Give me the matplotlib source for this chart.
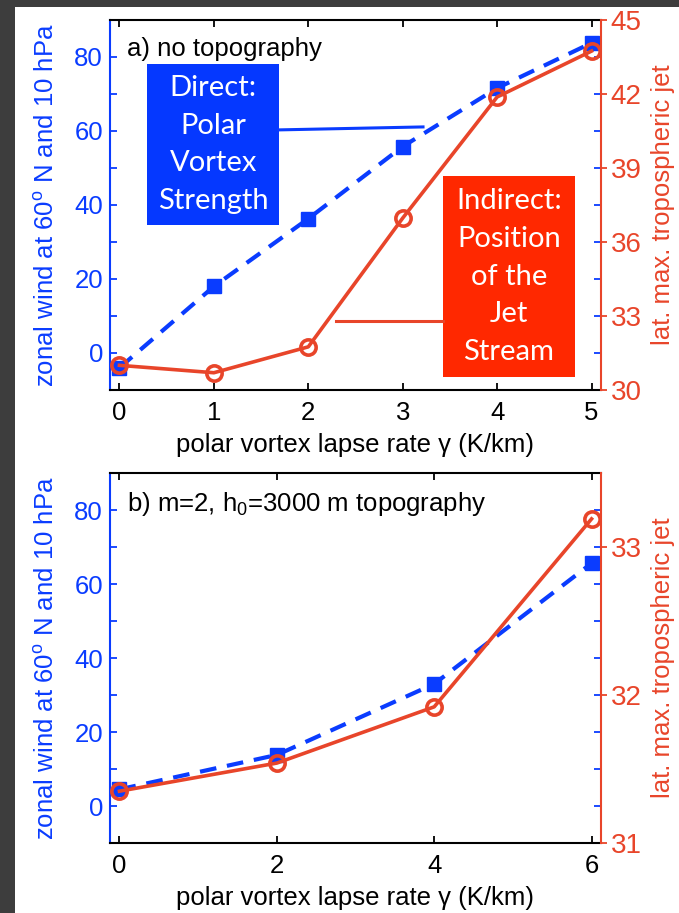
import matplotlib
matplotlib.use('Agg')
import matplotlib.pyplot as plt
from matplotlib.patches import Rectangle
from matplotlib.lines import Line2D
from matplotlib.ticker import MultipleLocator

plt.rcParams['font.family'] = ['Liberation Sans', 'DejaVu Sans']
plt.rcParams['mathtext.fontset'] = 'custom'
plt.rcParams['mathtext.rm'] = 'Liberation Sans'
plt.rcParams['mathtext.it'] = 'Liberation Sans:italic'

# panel a) no topography
gamma_a = [0, 1, 2, 3, 4, 5]
wind_a = [-4, 18, 36.3, 55.8, 71.6, 83.8]
jet_a = [31.0, 30.7, 31.75, 36.97, 41.88, 43.74]

# panel b) m=2, h0=3000 m topography
gamma_b = [0, 2, 4, 6]
wind_b = [4.5, 13.8, 33, 65.6]
jet_b = [31.35, 31.54, 31.92, 33.19]

xticks_a = [0, 1, 2, 3, 4, 5]
xticks_b = [0, 2, 4, 6]
right_ticks_a = [30, 33, 36, 39, 42, 45]
right_ticks_b = [31, 32, 33]

BLUE = '#0a3cff'
RED = '#e8452a'
BOX_BLUE = '#0538ff'
BOX_RED = '#ff2800'
FS = 18.5

fig = plt.figure(figsize=(6.79, 9.13), dpi=100, facecolor='#3d3d3d')
fig.patches.append(Rectangle((15 / 679, 0), 1, 1 - 7 / 913, transform=fig.transFigure,
                             facecolor='white', edgecolor='none', zorder=-10))


def make_panel(rect, gx, wind, jet, xticks, xlim, rticks, rlim, title):
    ax = fig.add_axes(rect)
    ax2 = ax.twinx()

    ax.plot(gx, wind, color=BLUE, lw=3, ls=(0, (4, 2.6)), marker='s', ms=10,
            mfc=BLUE, mec=BLUE, clip_on=False)
    # red curve sits on the twin axes, drawn above the blue one
    ax2.plot(gx, jet, color=RED, lw=2.6, marker='o', ms=11, mfc='none', mec=RED,
             mew=2.6, clip_on=False)
    ax.set_xlim(xlim)
    ax.set_ylim(-10, 90)
    ax2.set_ylim(rlim)
    ax.set_xticks(xticks)
    ax.yaxis.set_major_locator(MultipleLocator(20))
    ax.yaxis.set_minor_locator(MultipleLocator(10))
    ax.tick_params(axis='y', which='both', direction='in', length=5, width=1.3,
                   colors=BLUE, labelsize=FS, right=True, pad=5)
    ax.tick_params(axis='x', direction='in', length=5, width=1.3, colors='black',
                   labelsize=FS, top=True, pad=8)
    ax2.set_yticks(rticks)
    ax2.tick_params(axis='y', direction='out', length=4, width=1.3, colors=RED,
                    labelsize=FS + 1.5, pad=3)
    for s in ('top', 'bottom'):
        ax.spines[s].set_color('black')
        ax.spines[s].set_linewidth(1.5)
    ax.spines['left'].set_color(BLUE)
    ax.spines['left'].set_linewidth(1.5)
    ax.spines['right'].set_visible(False)
    ax2.spines['right'].set_color(RED)
    ax2.spines['right'].set_linewidth(1.5)
    for s in ('top', 'bottom', 'left'):
        ax2.spines[s].set_visible(False)

    ax.set_ylabel(r'zonal wind at 60$^{\rm o}$ N and 10 hPa', color=BLUE, fontsize=FS,
                  labelpad=11)
    ax2.set_ylabel('lat. max. tropospheric jet', color=RED, fontsize=FS, labelpad=7)
    ax.set_xlabel('polar vortex lapse rate \u03b3 (K/km)', fontsize=FS, labelpad=6)
    ax2.text(0.035, 0.955, title, transform=ax.transAxes, fontsize=FS, va='top', ha='left')
    return ax, ax2


W = 491 / 679
H = 370 / 913
ax_a, ax2_a = make_panel([110 / 679, 1 - 390 / 913, W, H], gamma_a, wind_a, jet_a,
                         xticks_a, (-0.1, 5.1), right_ticks_a, (30, 45), 'a) no topography')
ax_b, ax2_b = make_panel([110 / 679, 1 - 843 / 913, W, H], gamma_b, wind_b, jet_b,
                         xticks_b, (-0.12, 6.12), right_ticks_b, (31, 33.5),
                         r'b) m=2, h$_{\rm 0}$=3000 m topography')

# annotation boxes in panel a (on the top axes so they cover the curves)
box_font = ['Lato', 'DejaVu Sans']
tr = ax2_a.transAxes
ax2_a.add_patch(Rectangle((0.0754, 0.446), 0.2686, 0.435, transform=tr,
                          facecolor=BOX_BLUE, edgecolor='none', zorder=5, clip_on=False))
ax2_a.text(0.210, 0.664, 'Direct:\nPolar\nVortex\nStrength', transform=tr,
           ha='center', va='center', color='white', fontsize=21, family=box_font,
           linespacing=1.55, zorder=6)
ax2_a.add_line(Line2D([0.344, 0.6375], [0.703, 0.711], transform=tr,
                      color=BLUE, lw=2.2, zorder=5))

ax2_a.add_patch(Rectangle((0.678, 0.035), 0.269, 0.543, transform=tr,
                          facecolor=BOX_RED, edgecolor='none', zorder=5, clip_on=False))
ax2_a.text(0.8125, 0.3065, 'Indirect:\nPosition\nof the\nJet\nStream',
           transform=tr, ha='center', va='center', color='white',
           fontsize=21, family=box_font, linespacing=1.55, zorder=6)
ax2_a.add_line(Line2D([0.460, 0.678], [0.186, 0.186], transform=tr,
                      color=RED, lw=2.2, zorder=5))

fig.savefig('out.png', dpi=100, facecolor=fig.get_facecolor())
